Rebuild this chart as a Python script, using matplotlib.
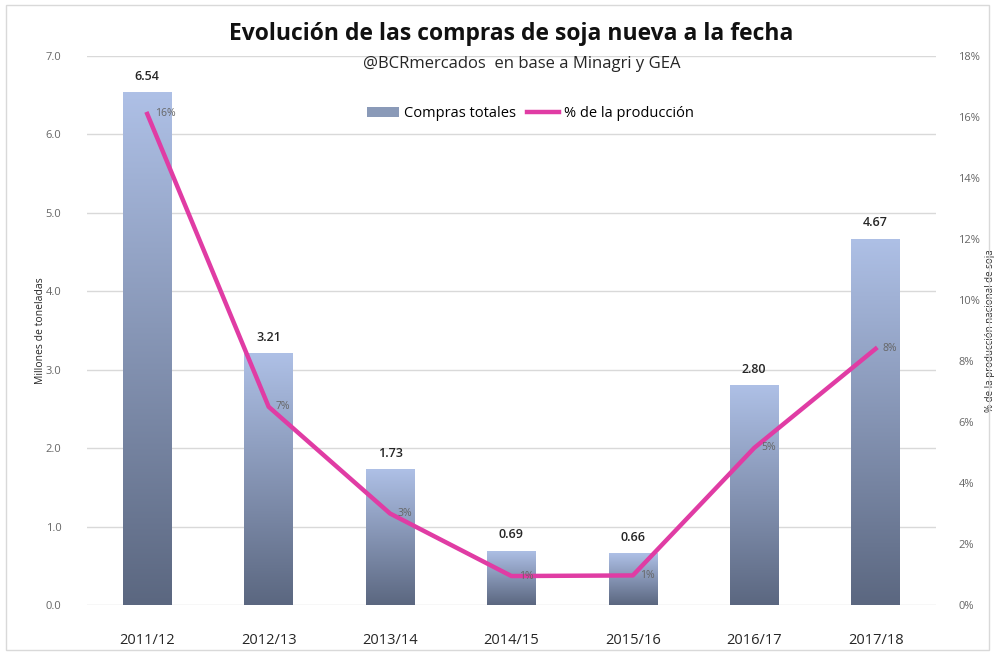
import numpy as np
import matplotlib
matplotlib.use('Agg')
import matplotlib.pyplot as plt
from matplotlib.patches import Rectangle
from matplotlib.lines import Line2D
from matplotlib.colors import LinearSegmentedColormap

# datos
campanas = ['2011/12', '2012/13', '2013/14', '2014/15', '2015/16', '2016/17', '2017/18']
compras = [6.54, 3.21, 1.73, 0.69, 0.66, 2.80, 4.67]
pct_prod = [16.1, 6.5, 3.0, 0.95, 0.97, 5.15, 8.4]
pct_labels = ['16%', '7%', '3%', '1%', '1%', '5%', '8%']
yticks_izq = [0, 1, 2, 3, 4, 5, 6, 7]
yticks_der = [0, 2, 4, 6, 8, 10, 12, 14, 16, 18]

plt.rcParams['font.family'] = ['Open Sans', 'DejaVu Sans']

fig = plt.figure(figsize=(9.95, 6.55), dpi=100)
ax = fig.add_axes([0.087, 0.0763, 0.854, 0.8382])
ax2 = ax.twinx()

x = np.arange(len(campanas))
ancho = 0.4
grad = LinearSegmentedColormap.from_list('barra', ['#5b6780', '#aec0e6'])
gradiente = np.linspace(0, 1, 256).reshape(-1, 1)

barras = ax.bar(x, compras, width=ancho, color='none', zorder=2)
for b in barras:
    im = ax.imshow(gradiente, cmap=grad, aspect='auto', origin='lower',
                   extent=[b.get_x(), b.get_x() + b.get_width(), 0, b.get_height()], zorder=2)
    im.set_clip_path(b)

for xi, v in zip(x, compras):
    ax.text(xi, v + 0.12, '%.2f' % v, ha='center', va='bottom', fontsize=9,
            color='#262626', fontweight='semibold')

ax.set_xlim(-0.5, len(campanas) - 0.5)
ax.set_ylim(0, 7)
ax.set_yticks(yticks_izq)
ax.set_yticklabels(['%.1f' % t for t in yticks_izq], fontsize=8, color='#666666')
ax.set_xticks(x)
ax.set_xticklabels(campanas, fontsize=10.5, color='#262626')
ax.tick_params(length=0)
ax.tick_params(axis='x', pad=20)
ax.tick_params(axis='y', pad=18)
ax.grid(axis='y', color='#d9d9d9', linewidth=1)
ax.set_axisbelow(True)
for s in ax.spines.values():
    s.set_visible(False)
ax.set_ylabel('Millones de toneladas', fontsize=7.5, color='#262626', labelpad=0)

ax2.plot(x, pct_prod, color='#e03ca4', linewidth=3.2, zorder=3)
for xi, v, lab in zip(x, pct_prod, pct_labels):
    ax2.text(xi + 0.06, v, lab, ha='left', va='center', fontsize=7.5, color='#666666')
ax2.set_ylim(0, 18)
ax2.set_yticks(yticks_der)
ax2.set_yticklabels(['%d%%' % t for t in yticks_der], fontsize=8, color='#666666')
ax2.tick_params(length=0, pad=16)
for s in ax2.spines.values():
    s.set_visible(False)
ax2.set_ylabel('% de la producción nacional de soja', fontsize=7, color='#262626', labelpad=3)

fig.text(0.514, 0.948, 'Evolución de las compras de soja nueva a la fecha',
         ha='center', va='center', fontsize=16.5, fontweight='bold', color='#111111')
fig.text(0.524, 0.903, '@BCRmercados  en base a Minagri y GEA',
         ha='center', va='center', fontsize=12, color='#262626')

handles = [Rectangle((0, 0), 1, 1, facecolor='#8a9ab8'),
           Line2D([0], [0], color='#e03ca4', linewidth=3.2)]
fig.legend(handles, ['Compras totales', '% de la producción'], loc='center',
           bbox_to_anchor=(0.533, 0.827), ncol=2, frameon=False, fontsize=10.5,
           handlelength=2.2, columnspacing=0.8, handletextpad=0.3)

fig.patches.append(Rectangle((0.006, 0.008), 0.988, 0.984, transform=fig.transFigure,
                             fill=False, edgecolor='#d9d9d9', linewidth=1))

fig.savefig('out.png', dpi=100)
